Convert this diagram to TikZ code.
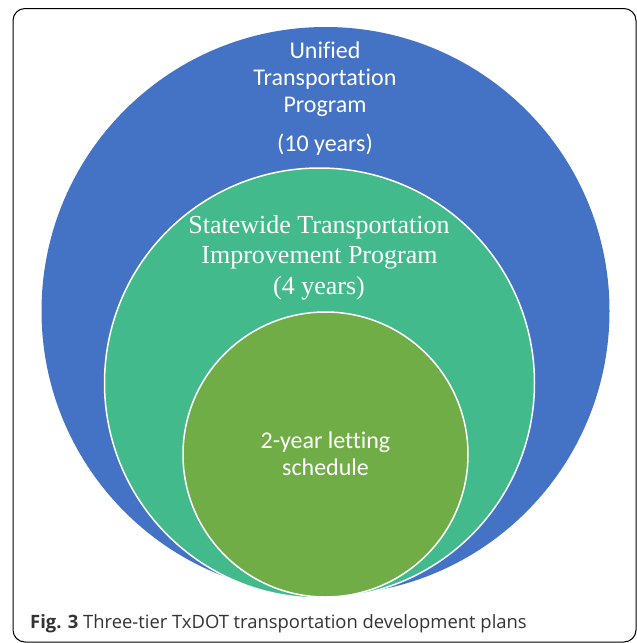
\documentclass[tikz,border=0pt]{standalone}
\usepackage{fontspec}
\setmainfont{Liberation Serif}
\newfontfamily\calfont[Ligatures=NoCommon]{Carlito}
\newfontfamily\capfont{Open Sans}
\definecolor{tierblue}{HTML}{4472C4}
\definecolor{tierteal}{HTML}{43BA8B}
\definecolor{tiergreen}{HTML}{70AD47}
\begin{document}
\begin{tikzpicture}[x=1pt,y=-1pt,
  tier/.style={circle,inner sep=0pt,outer sep=0pt},
  outerlbl/.style={anchor=base,text=white,font=\calfont\fontsize{24}{27}\selectfont,inner sep=0pt},
  midlbl/.style={anchor=base,text=white,font=\fontsize{26}{31}\selectfont,inner sep=0pt},
  innerlbl/.style={anchor=base,text=white,font=\calfont\fontsize{24}{27}\selectfont,inner sep=0pt},
  caption/.style={anchor=base west,inner sep=0pt,text=black!80,font=\capfont\fontsize{18.4}{21}\selectfont}]
\useasboundingbox (0,0) rectangle (637,643);
\draw[line width=1pt,rounded corners=12pt] (13,8.5) rectangle (636,642);
\node[tier,fill=tierblue,minimum size=568pt] (utp) at (325.5,311) {};
\node[tier,fill=tierteal,draw=white,line width=1.5pt,minimum size=430pt] (stip) at (319.5,383) {};
\node[tier,fill=tiergreen,draw=white,line width=1.5pt,minimum size=285pt] (let) at (325.5,454.5) {};
\node[outerlbl] (u1) at (325,58) {Unified};
\node[outerlbl] (u2) at (325,85) {Transportation};
\node[outerlbl] (u3) at (325,112) {Program};
\node[outerlbl] (u4) at (325,151) {(10 years)};
\node[midlbl] (s1) at (319,233) {Statewide Transportation};
\node[midlbl] (s2) at (319.5,263.5) {Improvement Program};
\node[midlbl] (s3) at (319,294) {(4 years)};
\node[innerlbl] (l1) at (325.5,448) {2-year letting};
\node[innerlbl] (l2) at (325.5,475) {schedule};
\node[caption] (cap) at (30,628) {\textbf{Fig. 3} Three-tier TxDOT transportation development plans};
\end{tikzpicture}
\end{document}
